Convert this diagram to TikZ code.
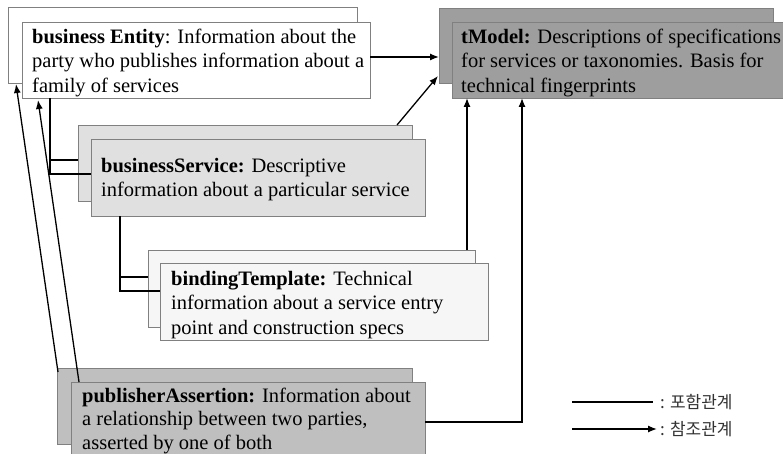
\documentclass[tikz,border=0pt]{standalone}
\usepackage{fontspec}
\setmainfont{Liberation Serif}
\newfontfamily\krfont{Noto Sans CJK KR}
\usetikzlibrary{arrows.meta,calc}
\definecolor{bordergray}{gray}{0.5}
\definecolor{tmfill}{gray}{0.62}
\definecolor{pafill}{gray}{0.75}
\definecolor{bsfill}{gray}{0.88}
\definecolor{btfill}{gray}{0.965}
\begin{document}
\begin{tikzpicture}[x=1pt,y=-1pt,
  box/.style={draw=bordergray,line width=0.8pt,anchor=north west,inner sep=0pt,outer sep=0pt},
  txt/.style={anchor=north west,align=left,inner sep=0pt,font=\fontsize{20.5}{24.3}\selectfont},
  legtxt/.style={anchor=west,inner sep=0pt,text=black!80,font=\krfont\fontsize{17}{17}\selectfont},
  contain/.style={line width=1.3pt},
  ref/.style={line width=1.3pt,-{Latex[length=9pt,width=7pt]}},
]
\useasboundingbox[fill=white] (0,0) rectangle (783,454);

% business Entity
\node[box,fill=white,minimum width=349pt,minimum height=76pt] (beB) at (8,7) {};
\node[box,fill=white,minimum width=348pt,minimum height=76pt] (beF) at (22,22) {};
\node[txt] (beT) at (32,29) {\textbf{business Entity}: Information about the\\party who publishes information about a\\family of services};

% tModel
\node[box,fill=tmfill,minimum width=334pt,minimum height=75pt] (tmB) at (439,8) {};
\node[box,fill=tmfill,minimum width=345pt,minimum height=76pt] (tmF) at (452,22) {};
\node[txt] (tmT) at (461,29) {\textbf{tModel:} Descriptions of specifications\\for services or taxonomies. Basis for\\technical fingerprints};

% businessService
\node[box,fill=bsfill,minimum width=334pt,minimum height=76pt] (bsB) at (78,125) {};
\node[box,fill=bsfill,minimum width=334pt,minimum height=77pt] (bsF) at (91,139) {};
\node[txt] (bsT) at (101,158) {\textbf{businessService:} Descriptive\\information about a particular service};

% bindingTemplate
\node[box,fill=btfill,minimum width=327pt,minimum height=77pt] (btB) at (148,250) {};
\node[box,fill=btfill,minimum width=328pt,minimum height=77pt] (btF) at (160,263) {};
\node[txt] (btT) at (171,271) {\textbf{bindingTemplate:} Technical\\information about a service entry\\point and construction specs};

% publisherAssertion
\node[box,fill=pafill,minimum width=355pt,minimum height=76pt] (paB) at (57,368) {};
\node[box,fill=pafill,minimum width=354pt,minimum height=90pt] (paF) at (71,382) {};
\node[txt,font=\fontsize{20.5}{23.8}\selectfont] (paT) at (82,387.5) {\textbf{publisherAssertion:} Information about\\a relationship between two parties,\\asserted by one of both};

% containment
\draw[contain] ($(beF.south west)+(28,0)$) |- ($(bsF.north west)+(0,35)$);
\draw[contain] ($(beF.south west)+(28,62)$) -- ($(bsB.north west)+(0,35)$);
\draw[contain] ($(bsF.south west)+(29,0)$) |- ($(btF.north west)+(0,28)$);
\draw[contain] ($(bsF.south west)+(29,61)$) -- ($(btB.north west)+(0,27)$);

% references
\draw[ref] ($(beF.north east)+(0,35)$) -- ($(tmB.north west)+(0,49)$);
\draw[ref] ($(bsB.north east)+(-15,0)$) -- ($(tmB.south west)+(-1,-7)$);
\draw[ref] ($(btB.north east)+(-8,0)$) -- ($(tmF.south west)+(15,0)$);
\draw[ref] ($(paF.north east)+(0,40)$) -| ($(tmF.south west)+(70,0)$);
\draw[ref] ($(paB.north west)+(1,4)$) -- ($(beB.south west)+(8,1)$);
\draw[ref] ($(paF.north west)+(8,0)$) -- ($(beF.south west)+(16,2)$);

% legend
\coordinate (l1a) at (572,402);
\coordinate (l1b) at (653,402);
\coordinate (l2a) at (572,429);
\coordinate (l2b) at (657,429);
\draw[contain] (l1a) -- (l1b);
\draw[ref] (l2a) -- (l2b);
\node[legtxt] (l1t) at (660,402) {: 포함관계};
\node[legtxt] (l2t) at (660,429) {: 참조관계};
\end{tikzpicture}
\end{document}
